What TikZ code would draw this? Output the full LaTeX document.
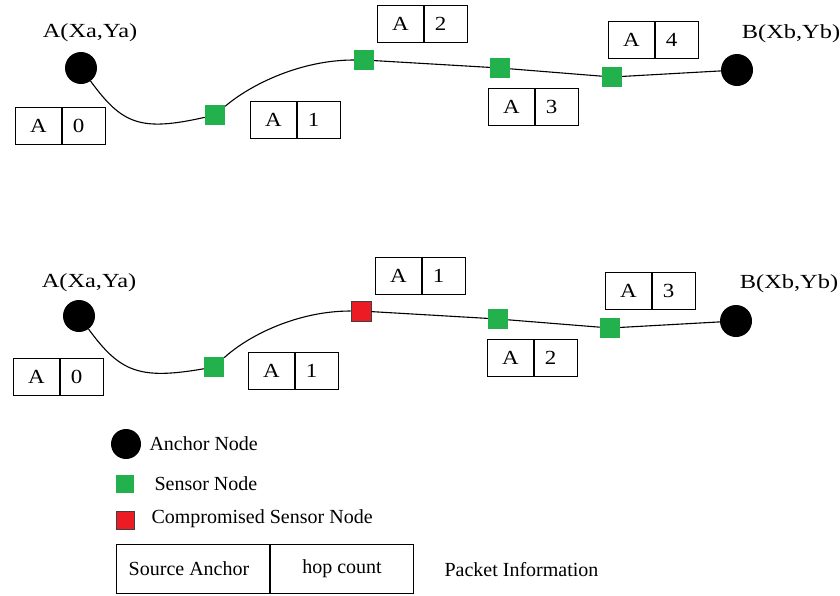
\documentclass[tikz,border=0pt]{standalone}
\usepackage{fontspec}
\setmainfont{Liberation Serif}
\definecolor{sgreen}{RGB}{34,177,76}
\definecolor{sred}{RGB}{237,28,36}
\newcommand\wide[1]{\scalebox{1.15}[1]{#1}}
\newcommand\lbl[1]{\scalebox{1.22}[1]{#1}}
\newcommand\pkt[4]{%
  \node[cellA] (#1a) at (#2,#3) {\wide{A}};
  \node[cellN] (#1n) at (#1a.north east) {\hspace*{-11pt}\wide{#4}};}
\begin{document}
\begin{tikzpicture}[x=1pt,y=-1pt,font=\fontsize{20}{24}\selectfont,
  anchornode/.style={circle,fill=black,minimum size=32pt,inner sep=0pt},
  sensor/.style={rectangle,fill=sgreen,minimum size=20pt,inner sep=0pt},
  badsensor/.style={rectangle,fill=sred,draw=black!75,line width=0.8pt,minimum size=20pt,inner sep=0pt},
  cellA/.style={draw,line width=1pt,minimum width=46pt,minimum height=37pt,inner sep=0pt,anchor=north west},
  cellN/.style={draw,line width=1pt,minimum width=43pt,minimum height=37pt,inner sep=0pt,anchor=north west},
  link/.style={line width=1.1pt}]
\useasboundingbox (0,0) rectangle (840,595);
\fill[white] (0,0) rectangle (840,595);

% ---- top network ----
\node[anchornode] (A1) at (81,68) {};
\node (A1l) at (90,33) {\lbl{A(Xa,Ya)}};
\node[anchornode] (B1) at (737,70) {};
\node (B1l) at (791,34) {\lbl{B(Xb,Yb)}};
\node[sensor] (s1) at (215,115) {};
\node[sensor] (s2) at (364,60) {};
\node[sensor] (s3) at (500,68) {};
\node[sensor] (s4) at (612,77) {};
\draw[link] (A1) .. controls (122,124) and (140,132) .. (s1);
\draw[link] (s1) .. controls (250,85) and (300,60) .. (s2);
\draw[link] (s2) -- (s3);
\draw[link] (s3) -- (s4);
\draw[link] (s4) -- (B1);
\pkt{p0}{15}{107}{0}
\pkt{p1}{250}{101}{1}
\pkt{p2}{377}{5}{2}
\pkt{p3}{488}{88}{3}
\pkt{p4}{608}{21}{4}

% ---- bottom network ----
\node[anchornode] (A2) at (79,316) {};
\node (A2l) at (89,283) {\lbl{A(Xa,Ya)}};
\node[anchornode] (B2) at (736,321) {};
\node (B2l) at (789,284) {\lbl{B(Xb,Yb)}};
\node[sensor] (t1) at (214,367) {};
\node[badsensor] (t2) at (361,311) {};
\node[sensor] (t3) at (498,319) {};
\node[sensor] (t4) at (610,328) {};
\draw[link] (A2) .. controls (120,372) and (139,380) .. (t1);
\draw[link] (t1) .. controls (249,335) and (298,311) .. (t2);
\draw[link] (t2) -- (t3);
\draw[link] (t3) -- (t4);
\draw[link] (t4) -- (B2);
\pkt{q0}{13}{358}{0}
\pkt{q1}{248}{352}{1}
\pkt{q2}{375}{257}{1}
\pkt{q3}{487}{339}{2}
\pkt{q4}{605}{272}{3}

% ---- legend ----
\node[anchornode,minimum size=30pt] (LA) at (126,444) {};
\node[anchor=west] (LAt) at (146,444) {Anchor Node};
\node[sensor,minimum size=18pt] (LS) at (125,484) {};
\node[anchor=west] (LSt) at (151,484) {Sensor Node};
\node[badsensor,minimum size=18pt] (LR) at (125,520) {};
\node[anchor=west] (LRt) at (148,519) {Compromised Sensor Node};
\node[draw,line width=1pt,minimum width=153pt,minimum height=49pt,inner sep=0pt,anchor=north west] (src) at (116,544) {\hspace*{-8pt}Source Anchor};
\node[draw,line width=1pt,minimum width=143pt,minimum height=49pt,inner sep=0pt,anchor=north west] (hop) at (src.north east) {hop count};
\node[anchor=west] (pinfo) at (441,570) {Packet Information};
\end{tikzpicture}
\end{document}
